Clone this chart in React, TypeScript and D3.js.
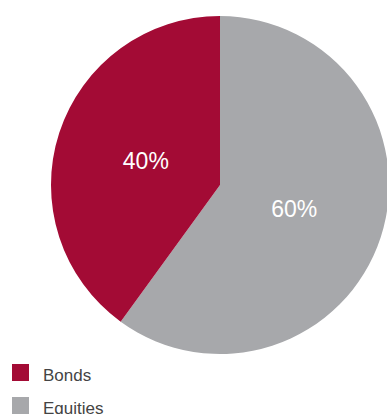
import React from "react";
import * as d3 from "d3";

const categories = ["Equities", "Bonds"];
const values = [60, 40];
const colors = ["#a7a8ab", "#a30b35"];
const legendOrder = ["Bonds", "Equities"];

export default function App() {
  const width = 387;
  const height = 414;
  const cx = 220;
  const cy = 185;
  const r = 169;
  const data = categories.map((c, i) => ({ name: c, value: values[i], color: colors[i] }));
  const pie = d3.pie<any>().sort(null).value((d: any) => d.value);
  const arcs = pie(data);
  const arc = d3.arc<any>().innerRadius(0).outerRadius(r);
  const labelArc = d3.arc<any>().innerRadius(78).outerRadius(78);
  return (
    <svg width={width} height={height} style={{ position: "absolute", left: 0, top: 0 }}>
      <g transform={`translate(${cx},${cy})`}>
        {arcs.map((a, i) => (
          <path key={i} d={arc(a) as string} fill={a.data.color} />
        ))}
        {arcs.map((a, i) => {
          const [x, y] = labelArc.centroid(a);
          return (
            <text key={"t" + i} x={x} y={y} textAnchor="middle" dominantBaseline="central"
              fill="#ffffff" fontFamily="'Liberation Sans', Arial, sans-serif" fontSize={23}>
              {a.data.value}%
            </text>
          );
        })}
      </g>
      {legendOrder.map((name, i) => {
        const idx = categories.indexOf(name);
        const y = 364 + i * 33;
        return (
          <g key={name}>
            <rect x={12} y={y} width={17} height={17} fill={colors[idx]} />
            <text x={43} y={y + 17} fontFamily="'Liberation Sans', Arial, sans-serif" fontSize={17} fill="#444">
              {name}
            </text>
          </g>
        );
      })}
    </svg>
  );
}
